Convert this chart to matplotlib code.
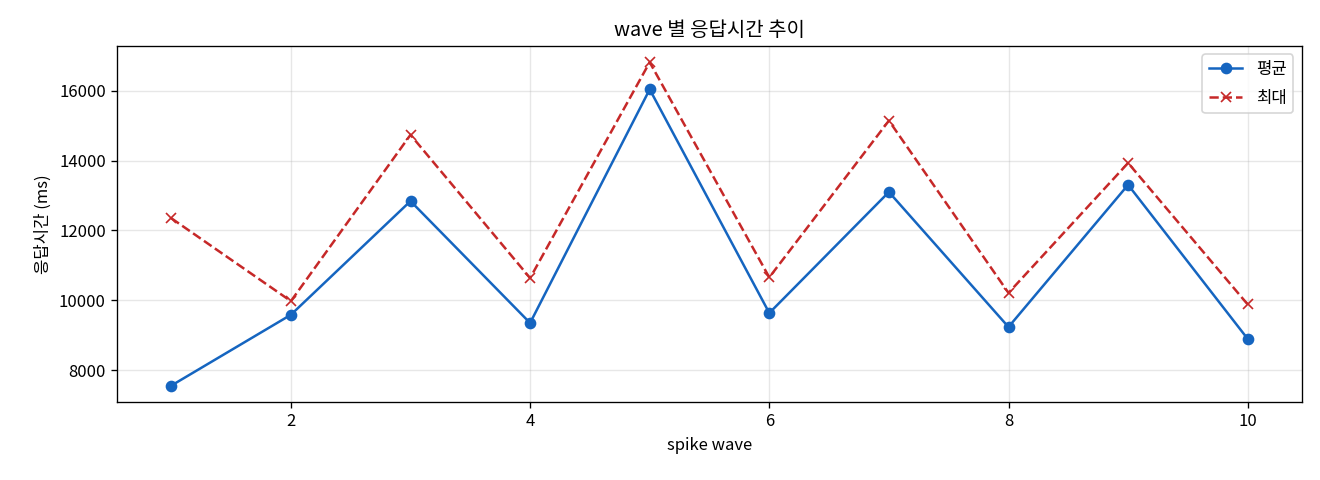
import matplotlib
matplotlib.use("agg")
import matplotlib.pyplot as plt

plt.rcParams['font.family'] = ['Noto Sans CJK KR', 'DejaVu Sans']
plt.rcParams['axes.unicode_minus'] = False

waves = [1, 2, 3, 4, 5, 6, 7, 8, 9, 10]
avg_ms = [7565, 9590, 12840, 9355, 16035, 9640, 13100, 9240, 13305, 8900]
max_ms = [12350, 9980, 14735, 10640, 16810, 10660, 15140, 10215, 13930, 9885]

fig, ax = plt.subplots(figsize=(11, 4), dpi=120)
ax.plot(waves, avg_ms, marker='o', color='#1565C0', label='평균')
ax.plot(waves, max_ms, marker='x', linestyle='--', color='#C62828', label='최대')
ax.set_title('wave 별 응답시간 추이')
ax.set_xlabel('spike wave')
ax.set_ylabel('응답시간 (ms)')
ax.grid(True, alpha=0.3)
ax.legend(loc='upper right', labelspacing=0.7)

fig.subplots_adjust(left=0.089, right=0.986, top=0.904, bottom=0.163)
fig.savefig('out.png')
